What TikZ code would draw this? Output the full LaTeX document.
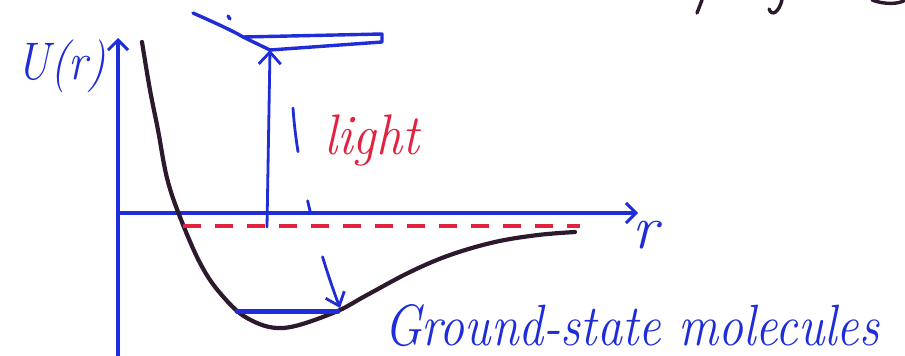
\documentclass[tikz,border=0pt]{standalone}
\usepackage{fontspec}
\usepackage{amsmath}
\usepackage{tikz}
\usetikzlibrary{positioning}
\usetikzlibrary{arrows.meta}

\definecolor{penblue}{RGB}{30,45,215}
\definecolor{penred}{RGB}{225,35,65}
\definecolor{penblack}{RGB}{45,25,45}

\begin{document}
\begin{tikzpicture}[
	  x=1pt, y=-1pt,
	  every node/.style = {inner sep=0pt, outer sep=0pt},
	  axis/.style={draw=penblue, line width=3.2pt, -{Straight Barb[length=10pt,width=20pt,line width=3pt]}},
	  curve/.style={draw=penblack, line width=4.2pt, line cap=round, line join=round},
	  level/.style={draw=penblue, line width=3.4pt, line cap=round, line join=round},
	  ink/.style={draw=penblack, line width=3.4pt, line cap=round},
	  hand/.style={font=\fontsize{#1}{#1}\selectfont\itshape}
	]
	  \useasboundingbox (0,0) rectangle (905,356);

	  % axes
	  \coordinate (ybase) at (118,356);
	  \coordinate (origin) at (118,213);
	  \coordinate (ytop) at (118,38);
	  \coordinate (xend) at (638,213);
	  \draw[axis] (ybase) -- (ytop);
	  \draw[axis] (origin) -- (xend);
	  \node[hand=46, text=penblue, anchor=east] (ulabel) at (106,66) {\scalebox{1}[1.15]{U(r)}};
	  \node[hand=62, text=penblue, below right=8pt and -6pt of xend] (rlabel) {r};

	  % ground-state potential
	  \draw[curve] plot[smooth, tension=0.6] coordinates {(142,42) (150,90) (158,130) (167,178) (180,217) (200,263) (220,293) (247,318) (283,328) (333,313) (367,295) (410,272) (450,255) (495,242) (538,235) (575,232)};
	  \draw[draw=penred, line width=4pt, dash pattern=on 18pt off 14pt] (183,226) -- (580,226);

	  % levels
	  \coordinate (lowL) at (237,311);
	  \coordinate (lowR) at (338,311);
	  \draw[level, line width=5pt] (lowL) -- (lowR);
	  \coordinate (upL) at (243,37);
	  \coordinate (upR) at (382,34);
	  \coordinate (upRb) at (382,42);
	  \coordinate (upLb) at (270,50);
	  \draw[level] (upL) -- (upR) -- (upRb) -- (upLb);
	  \draw[level] (193,13) .. controls (220,25) and (235,32) .. (upL) -- (upLb);
	  \draw[level] (228,16) -- (230,19);

	  % transitions
	  \coordinate (lightfoot) at (267,227);
	  \draw[level, line width=2.8pt, -{Straight Barb[length=12pt,width=22pt,line width=2.8pt]}] (lightfoot) -- (upLb);
	  \coordinate (decaytop) at (293,108);
	  \coordinate (decayend) at (340,308);
	  \draw[level, line width=2.8pt, dash pattern=on 44pt off 50pt on 12pt off 46pt on 60pt,
	        -{Straight Barb[length=12pt,width=20pt,line width=2.8pt]}]
	        (decaytop) .. controls (297,170) and (318,250) .. (decayend);

	  \node[hand=52, text=penred, anchor=west] (lightlabel) at (324,140) {\scalebox{1}[1.1]{light}};
	  \node[hand=52, text=penblue, anchor=west] (groundlabel) at (384,326) {\scalebox{0.96}[1.12]{Ground-state molecules}};

	  % cut-off writing at the top
	  \draw[ink] (702,0) -- (697,13);
	  \draw[ink] (782,0) .. controls (779,12) and (772,17) .. (769,9);
	  \draw[ink] (872,0) .. controls (885,5) and (900,4) .. (905,0);
\end{tikzpicture}
\end{document}
